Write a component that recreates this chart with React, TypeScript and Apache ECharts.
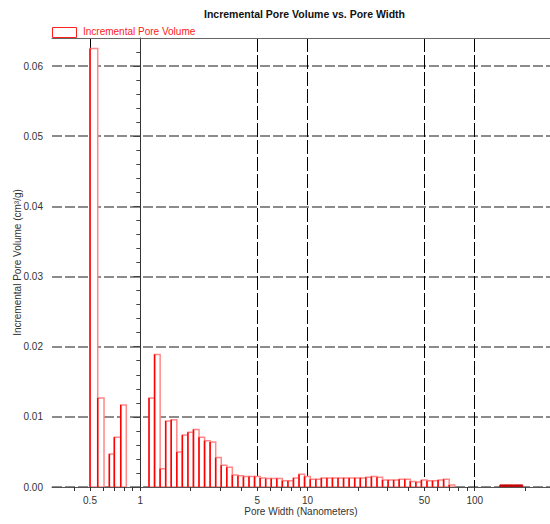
import React, { useEffect, useRef } from "react";
import * as echarts from "echarts";

const titleText = "Incremental Pore Volume vs. Pore Width";
const seriesName = "Incremental Pore Volume";
const xAxisName = "Pore Width (Nanometers)";
const yAxisName = "Incremental Pore Volume (cm³/g)";

// histogram bin edges (nm), contiguous
const binEdgesNm = [
  0.5003, 0.5561, 0.6066, 0.6527, 0.6991, 0.7634, 0.8245, 0.8917, 0.9643, 1.0425,
  1.1272, 1.2168, 1.3136, 1.418, 1.5308, 1.6525, 1.7839, 1.9257, 2.0789, 2.2442,
  2.4226, 2.6152, 2.8232, 3.0477, 3.29, 3.5516, 3.834, 4.1389, 4.468, 4.8232,
  5.2067, 5.6207, 6.0676, 6.55, 7.0708, 7.633, 8.24, 8.8951, 9.6024, 10.384,
  11.21, 12.1, 13.06, 14.1, 15.22, 16.43, 17.74, 19.15, 20.69, 22.33,
  24.11, 26.03, 28.1, 30.33, 32.74, 35.34, 38.16, 41.19, 44.46, 48.0,
  51.81, 55.93, 60.38, 65.18, 70.37, 75.96,
];
// incremental pore volume per bin (cm³/g)
const poreVolume = [
  0.0625, 0.0127, 0, 0.0047, 0.0071, 0.0117,
  0, 0, 0, 0,
  0.0127, 0.0189, 0.0026, 0.0094, 0.0096, 0.005, 0.0074, 0.0078, 0.0082, 0.0071,
  0.0066, 0.0064, 0.0042, 0.0031, 0.0028, 0.0017, 0.0016, 0.0015, 0.0015, 0.0015,
  0.0013, 0.0012, 0.0012, 0.0012, 0.0009, 0.0009, 0.0013, 0.0018, 0.0015, 0.0011,
  0.0011, 0.0013, 0.0013, 0.0013, 0.0013, 0.0013, 0.0013, 0.0013, 0.0013, 0.0014,
  0.0015, 0.0014, 0.001, 0.001, 0.001, 0.0011, 0.0011, 0.0008, 0.0007, 0.001,
  0.0009, 0.0009, 0.001, 0.0011, 0.0003,
];
// far-right small bins
const tailEdgesNm = [141.7, 153.3, 165.7, 179.2, 193.7];
const tailVolume = [0.0003, 0.0003, 0.0003, 0.0003];

const xMinNm = 0.2963;
const xMaxNm = 282;
const xMajorTicks = [0.5, 1, 5, 10, 50, 100];
const xMajorLabels = ["0.5", "1", "5", "10", "50", "100"];
const xMinorTicks = [0.4, 0.6, 0.7, 0.8, 0.9, 2, 3, 4, 6, 7, 8, 9, 20, 30, 40, 60, 70, 80, 90, 200];

const yMin = 0;
const yMax = 0.064;
const yMajorTicks = [0, 0.01, 0.02, 0.03, 0.04, 0.05, 0.06];
const yMinorTicks = [
  0.002, 0.004, 0.006, 0.008, 0.012, 0.014, 0.016, 0.018, 0.022, 0.024, 0.026, 0.028,
  0.032, 0.034, 0.036, 0.038, 0.042, 0.044, 0.046, 0.048, 0.052, 0.054, 0.056, 0.058, 0.062,
];

const FONT = '"Liberation Sans", Arial, sans-serif';
const RED = "#ff2020";
const lg = (v: number) => Math.log10(v);

export default function App() {
  const ref = useRef<HTMLDivElement>(null);
  useEffect(() => {
    if (!ref.current) return;
    const chart = echarts.init(ref.current, null, { renderer: "svg" });

    const data: number[][] = [];
    for (let i = 0; i < poreVolume.length; i++) {
      if (poreVolume[i] > 0) data.push([lg(binEdgesNm[i]), lg(binEdgesNm[i + 1]), poreVolume[i], 0]);
    }
    for (let i = 0; i < tailVolume.length; i++) {
      data.push([lg(tailEdgesNm[i]), lg(tailEdgesNm[i + 1]), tailVolume[i], 1]);
    }

    const xMin = lg(xMinNm);
    const xMax = lg(xMaxNm);

    chart.setOption({
      animation: false,
      backgroundColor: "#fff",
      textStyle: { fontFamily: FONT },
      title: {
        text: titleText,
        left: 204,
        top: 8,
        padding: 0,
        textStyle: { fontSize: 10.5, fontWeight: "bold", color: "#111", fontFamily: FONT },
      },
      graphic: [
        {
          type: "rect",
          left: 52,
          top: 27,
          shape: { x: 0, y: 0, width: 24, height: 10 },
          style: { fill: "#fff", stroke: RED, lineWidth: 1 },
        },
        {
          type: "text",
          left: 83,
          top: 26,
          style: { text: seriesName, fill: RED, font: `10px ${FONT}` },
        },
      ],
      grid: {
        left: 52,
        top: 38,
        right: 0,
        height: 449,
        containLabel: false,
        outerBoundsMode: "none",
      },
      xAxis: [
        {
          type: "value",
          min: xMin,
          max: xMax,
          position: "bottom",
          name: xAxisName,
          nameLocation: "middle",
          nameGap: 19,
          nameMoveOverlap: false,
          nameTextStyle: { fontSize: 10, color: "#333", fontFamily: FONT },
          axisLine: { show: true, lineStyle: { color: "#555", width: 1 } },
          axisTick: { show: true, inside: false, length: 4, customValues: xMajorTicks.map(lg), lineStyle: { color: "#333" } },
          axisLabel: {
            show: true,
            margin: 8,
            fontSize: 10,
            color: "#333",
            fontFamily: FONT,
            customValues: xMajorTicks.map(lg),
            formatter: (v: number) => {
              let best = 0;
              for (let i = 0; i < xMajorTicks.length; i++) {
                if (Math.abs(lg(xMajorTicks[i]) - v) < Math.abs(lg(xMajorTicks[best]) - v)) best = i;
              }
              return xMajorLabels[best];
            },
          },
          splitLine: { show: true, lineStyle: { color: "#000", width: 1, type: [14, 3] } },
        },
        {
          type: "value",
          min: xMin,
          max: xMax,
          position: "bottom",
          axisLine: { show: false },
          axisTick: { show: true, inside: false, length: 4, customValues: xMinorTicks.map(lg), lineStyle: { color: "#333" } },
          axisLabel: { show: false },
          splitLine: { show: false },
        },
        {
          type: "value",
          min: xMin,
          max: xMax,
          position: "top",
          axisLine: { show: true, lineStyle: { color: "#666", width: 1 } },
          axisTick: { show: false },
          axisLabel: { show: false },
          splitLine: { show: false },
        },
      ],
      yAxis: [
        {
          type: "value",
          min: yMin,
          max: yMax,
          position: "left",
          name: yAxisName,
          nameLocation: "middle",
          nameGap: 30,
          nameMoveOverlap: false,
          nameTextStyle: { fontSize: 10, color: "#333", fontFamily: FONT },
          axisLine: { show: true, lineStyle: { color: "#333", width: 1 } },
          axisTick: { show: true, inside: false, length: 7, customValues: yMajorTicks, lineStyle: { color: "#444" } },
          axisLabel: {
            show: true,
            margin: 9,
            fontSize: 10,
            color: "#333",
            fontFamily: FONT,
            customValues: yMajorTicks,
            formatter: (v: number) => v.toFixed(2),
          },
          splitLine: { show: true, lineStyle: { color: "#666", width: 1.5, type: [10, 3] } },
        },
        {
          type: "value",
          min: yMin,
          max: yMax,
          position: "left",
          axisLine: { show: false },
          axisTick: { show: true, inside: false, length: 4, customValues: yMinorTicks, lineStyle: { color: "#444" } },
          axisLabel: { show: false },
          splitLine: { show: false },
        },
      ],
      series: [
        {
          name: seriesName,
          type: "custom",
          xAxisIndex: 0,
          yAxisIndex: 0,
          clip: true,
          encode: { x: [0, 1], y: 2 },
          itemStyle: { color: "#fff", borderColor: RED, borderWidth: 1 },
          data,
          renderItem: (params: any, api: any) => {
            const p0 = api.coord([api.value(0), 0]);
            const p1 = api.coord([api.value(1), api.value(2)]);
            const dark = api.value(3) === 1;
            const x = p0[0];
            const w = p1[0] - p0[0];
            const yTop = p1[1];
            const h = p0[1] - p1[1];
            return {
              type: "group",
              children: [
                {
                  type: "rect",
                  shape: { x, y: yTop, width: w, height: h },
                  style: {
                    fill: dark ? "#c00000" : "#fff",
                    stroke: dark ? "#c81010" : "#ff8888",
                    lineWidth: dark ? 1 : 1.5,
                  },
                },
                {
                  type: "line",
                  shape: { x1: x, y1: p0[1], x2: x, y2: yTop },
                  style: { stroke: dark ? "#c00000" : "#ff0000", lineWidth: dark ? 1 : 1.5 },
                },
              ],
            };
          },
        },
      ],
    });
    return () => chart.dispose();
  }, []);
  return (
    <div
      ref={ref}
      style={{ position: "fixed", left: 0, top: 0, width: 550, height: 524, background: "#fff" }}
    />
  );
}
